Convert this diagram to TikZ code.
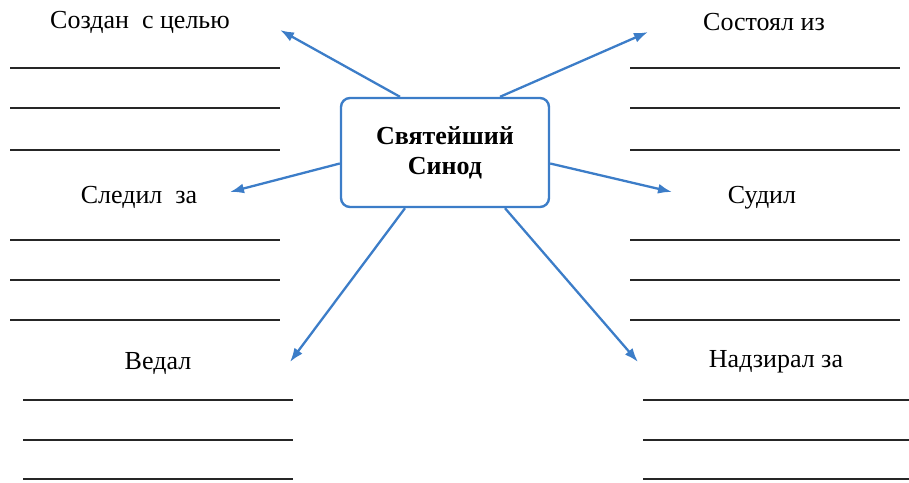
\documentclass[tikz,border=0pt]{standalone}
\usepackage{fontspec}
\setmainfont{Liberation Serif}
\usetikzlibrary{arrows.meta}
\definecolor{sblue}{RGB}{60,125,200}
\tikzset{
  synbox/.style={draw=sblue, line width=2.4pt, rounded corners=9pt, fill=white,
    minimum width=208pt, minimum height=109pt, align=center,
    font=\fontsize{26}{30}\selectfont\bfseries},
  lbl/.style={font=\fontsize{26}{30}\selectfont, inner sep=0pt},
  arr/.style={draw=sblue, line width=2.3pt, -{Latex[length=14pt,width=10pt]}},
  wline/.style={draw=black!85, line width=1.9pt}
}
\begin{document}
\begin{tikzpicture}[x=1pt,y=-1pt]
\useasboundingbox (0,0) rectangle (909,482);
% writing lines
\foreach \yy in {68,108,150,240,280,320}{
  \draw[wline] (10,\yy) -- (280,\yy);
  \draw[wline] (630,\yy) -- (900,\yy);
}
\foreach \yy in {400,440,479}{
  \draw[wline] (23,\yy) -- (293,\yy);
  \draw[wline] (643,\yy) -- (909,\yy);
}
% central box
\node[synbox] (box) at (445,152.5) {Святейший\\Синод};
% labels
\node[lbl] (l1) at (140,22) {Создан\ \ с целью};
\node[lbl] (l2) at (139,197) {Следил\ \ за};
\node[lbl] (l3) at (158,363) {Ведал};
\node[lbl] (r1) at (764,22) {Состоял из};
\node[lbl] (r2) at (762,198) {Судил};
\node[lbl] (r3) at (776,362) {Надзирал за};
% arrow tips
\coordinate (t1) at (280,30);
\coordinate (t2) at (648,32);
\coordinate (t3) at (230,192);
\coordinate (t4) at (672,192);
\coordinate (t5) at (290,362);
\coordinate (t6) at (638,362);
% arrows
\draw[arr] ([xshift=-45pt]box.north) -- (t1);
\draw[arr] ([xshift=55pt]box.north) -- (t2);
\draw[arr] ([yshift=-11pt]box.west) -- (t3);
\draw[arr] ([yshift=-11pt]box.east) -- (t4);
\draw[arr] ([xshift=-40pt]box.south) -- (t5);
\draw[arr] ([xshift=60pt]box.south) -- (t6);
\end{tikzpicture}
\end{document}
